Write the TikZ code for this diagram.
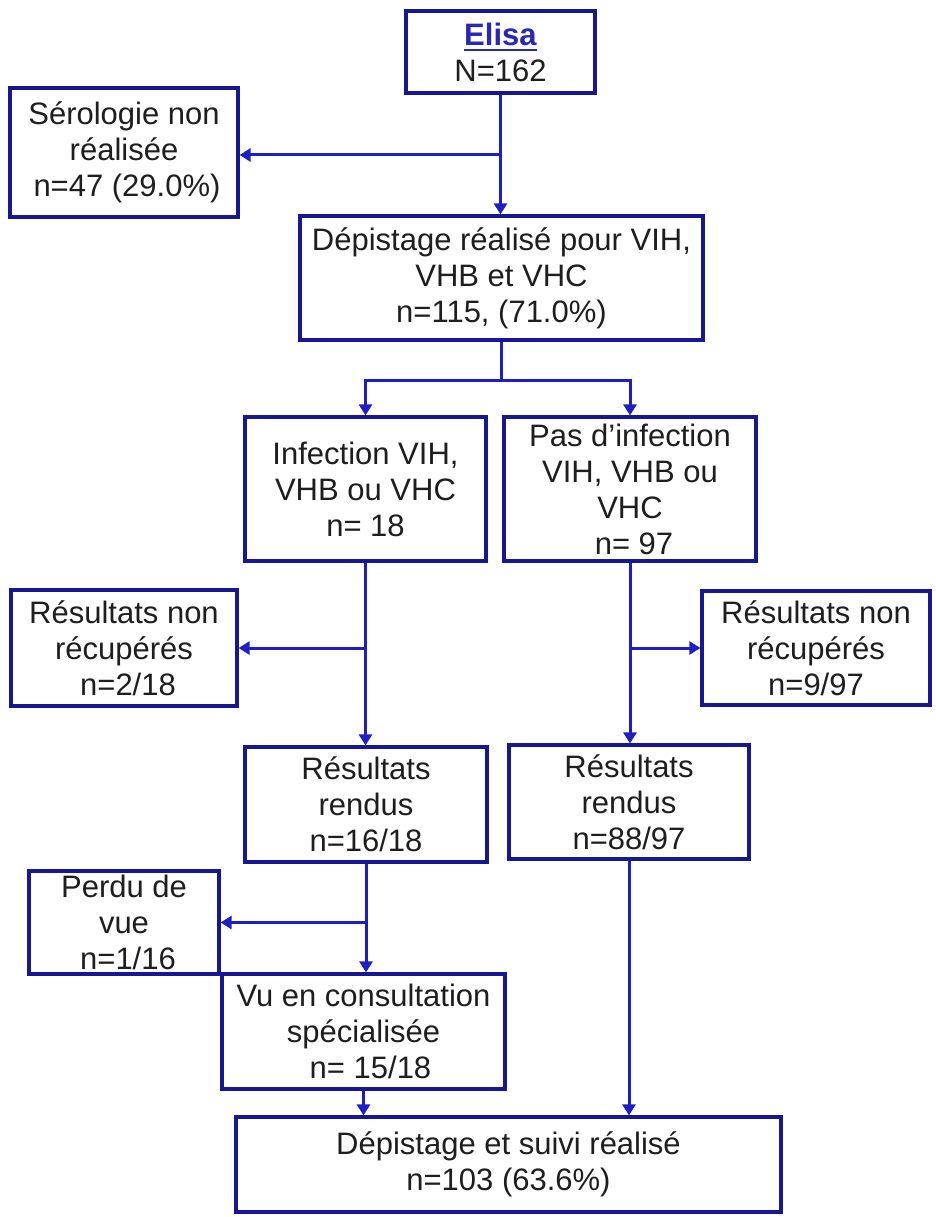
\documentclass[tikz,border=0pt]{standalone}
\usepackage{fontspec}
\setmainfont{Liberation Sans}
\usetikzlibrary{arrows.meta}
\definecolor{boxblue}{RGB}{22,22,150}
\definecolor{lineblue}{RGB}{30,30,200}
\definecolor{elisablue}{RGB}{40,40,180}
\definecolor{txt}{RGB}{30,30,30}
\newcommand{\myul}[1]{\setbox0\hbox{#1}\rlap{\rule[-6pt]{\wd0}{2.5pt}}\box0}
\begin{document}
\begin{tikzpicture}[x=1pt,y=-1pt,
  box/.style={draw=boxblue, line width=3.2pt, fill=white, align=center, inner sep=0pt,
              text=txt, font=\fontsize{31}{36}\selectfont},
  conn/.style={draw=lineblue, line width=3pt},
  arr/.style={conn, -{Triangle[width=13pt,length=11pt]}},
]
\useasboundingbox (0,0) rectangle (936,1217);
\fill[white] (0,0) rectangle (936,1217);

\node[box, minimum width=189pt, minimum height=82pt] (elisa) at (500.5,52)
  {\textcolor{elisablue}{\myul{\textbf{Elisa}}}\\N=162};
\node[box, minimum width=228pt, minimum height=129pt] (sero) at (124,152.5)
  {Sérologie non\\réalisée\\\hspace*{6pt}n=47 (29.0\%)};
\node[box, minimum width=403pt, minimum height=124pt] (dep) at (501.5,278)
  {Dépistage réalisé pour VIH,\\VHB et VHC\\n=115, (71.0\%)};
\node[box, minimum width=241pt, minimum height=144pt] (inf) at (365.5,489)
  {Infection VIH,\\VHB ou VHC\\n= 18};
\node[box, minimum width=252pt, minimum height=144pt] (pas) at (630,489)
  {Pas d’infection\\VIH, VHB ou\\VHC\\\hspace*{8pt}n= 97};
\node[box, minimum width=226pt, minimum height=116pt] (nrl) at (124,648)
  {Résultats non\\récupérés\\\hspace*{8pt}n=2/18};
\node[box, minimum width=228pt, minimum height=114pt] (nrr) at (816,648)
  {Résultats non\\récupérés\\n=9/97};
\node[box, minimum width=242pt, minimum height=115pt] (rrl) at (366,804.5)
  {Résultats\\rendus\\n=16/18};
\node[box, minimum width=240pt, minimum height=114pt] (rrr) at (629,802)
  {Résultats\\rendus\\n=88/97};
\node[box, minimum width=190pt, minimum height=103pt] (perdu) at (124,922.5)
  {Perdu de\\vue\\\hspace*{8pt}n=1/16};
\node[box, minimum width=283pt, minimum height=115pt] (vu) at (363.5,1031.5)
  {Vu en consultation\\spécialisée\\\hspace*{14pt}n= 15/18};
\node[box, minimum width=545pt, minimum height=95pt] (final) at (508.5,1164.5)
  {Dépistage et suivi réalisé\\n=103 (63.6\%)};

% connectors
\coordinate (b1) at (500.5,155);
\draw[arr] (elisa.south) -- (elisa.south |- dep.north);
\draw[arr] (b1) -- (sero.east |- b1);

\coordinate (b2) at (501.5,380);
\draw[arr] (dep.south) -- (b2) -| (inf.north);
\draw[arr] (b2) -| (pas.north);

\draw[arr] (inf.south) -- (inf.south |- rrl.north);
\draw[arr] (inf.south |- nrl.east) -- (nrl.east);

\draw[arr] (pas.south) -- (pas.south |- rrr.north);
\draw[arr] (pas.south |- nrr.west) -- (nrr.west);

\draw[arr] (rrl.south) -- (rrl.south |- vu.north);
\draw[arr] (rrl.south |- perdu.east) -- (perdu.east);

\draw[arr] (vu.south) -- (vu.south |- final.north);
\draw[arr] (rrr.south) -- (rrr.south |- final.north);
\end{tikzpicture}
\end{document}
